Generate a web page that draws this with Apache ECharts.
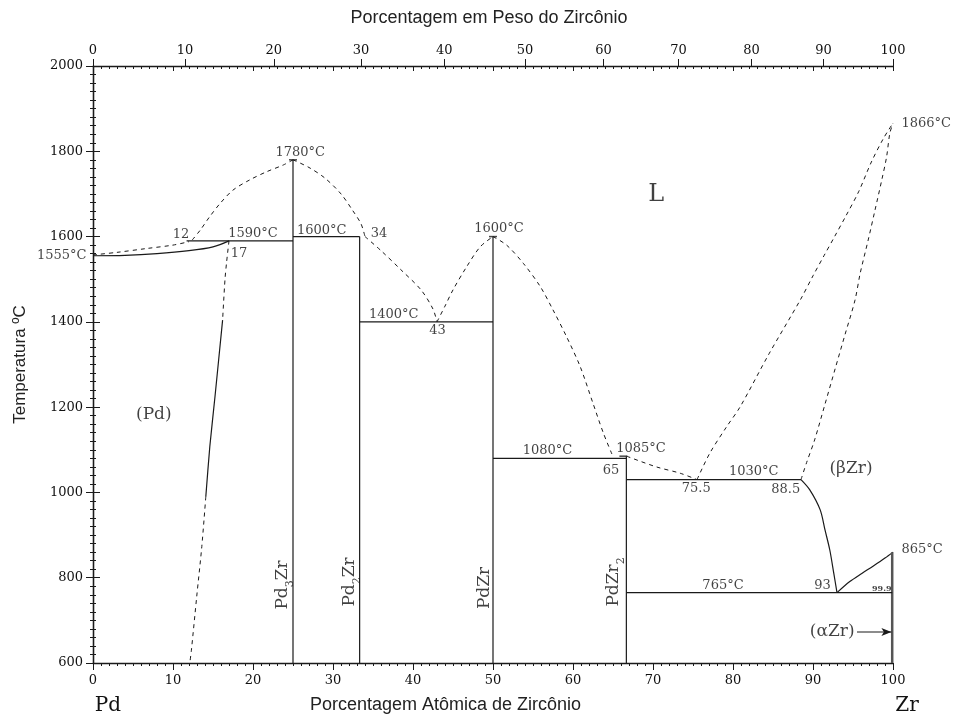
<!DOCTYPE html>
<html>
<head>
<meta charset="utf-8">
<script src="https://cdn.jsdelivr.net/npm/echarts@6/dist/echarts.min.js"></script>
<style>
    html, body {margin: 0; background: #fff;}
    #pdzr {width: 954px; height: 716px;}
</style>
</head>
<body>
<div id="pdzr"></div>
<script>
// top axis: weight % labels and where they sit on the atomic % scale
const wtLabels = [0, 10, 20, 30, 40, 50, 60, 70, 80, 90, 100];
const wtTickAt = [0, 11.5, 22.6, 33.5, 43.9, 54.0, 63.8, 73.2, 82.3, 91.3, 100];

// solid boundaries [at.% Zr, °C]
const pdSolidus = [[0, 1555], [4, 1556], [8, 1560], [12, 1567], [15, 1576], [17, 1590]];
const pdSolvusMid = [[16.2, 1404], [15.25, 1225], [14.6, 1107], [14.1, 990]];
const bzrSolvus = [[88.5, 1030], [89.6, 1006], [90.9, 959], [91.5, 912], [92.1, 865], [92.6, 810], [93, 765]];
const azrBoundary = [[93, 765], [94.6, 791], [96.1, 810], [97.5, 827], [99, 846], [100, 860]];
const azrSolvus = [[99.9, 860], [99.9, 600]];

// invariant lines
const iso1590 = [[11.7, 1590], [25, 1590]];
const iso1600 = [[25, 1600], [33.33, 1600]];
const iso1400 = [[33.33, 1400], [50, 1400]];
const iso1080 = [[50, 1080], [66.67, 1080]];
const iso1030 = [[66.67, 1030], [88.5, 1030]];
const iso765 = [[66.67, 765], [99.9, 765]];

// compounds
const pd3zr = [[25, 600], [25, 1780]];
const pd2zr = [[33.33, 600], [33.33, 1600]];
const pdzr = [[50, 600], [50, 1600]];
const pdzr2 = [[66.67, 600], [66.67, 1085]];
const caps = [[25, 1780], [50, 1600], [66.3, 1085]];

// dashed boundaries
const pdLiquidus = [[0, 1557], [3, 1563], [6.7, 1572], [10, 1580], [12, 1588]];
const pd3zrLeft = [[12.4, 1592], [13.4, 1615], [14.6, 1647], [15.9, 1678], [17.5, 1709], [19.6, 1733], [21.7, 1752], [23.8, 1768], [25, 1780]];
const pd3zrRight = [[25, 1780], [27, 1762], [29, 1737], [31, 1700], [32.5, 1660], [33.5, 1630], [34, 1600]];
const pd2zrLiq = [[34, 1600], [36, 1567], [38.5, 1522], [41, 1475], [42.5, 1430], [43, 1400]];
const pdzrLeft = [[43, 1400], [44, 1437], [45, 1475], [46.7, 1529], [48.4, 1576], [50, 1600]];
const pdzrRight = [[50, 1600], [51.7, 1580], [53.8, 1537], [55.9, 1483], [57.5, 1428], [59.2, 1365], [60.9, 1295], [62.5, 1209], [63.8, 1139], [65, 1084]];
const pdzr2Liq = [[66.7, 1085], [70.4, 1060], [73.4, 1045], [75.5, 1030]];
const zrLiquidus = [[75.5, 1030], [77.1, 1092], [79.2, 1154], [80.9, 1201], [84.5, 1325], [88.4, 1451], [90, 1508], [91.4, 1556], [92.7, 1600], [94.1, 1648], [95.7, 1705], [97.3, 1775], [98.8, 1830], [100, 1866]];
const zrSolidus = [[88.5, 1030], [89.2, 1070], [90.2, 1123], [91.5, 1207], [92.8, 1292], [94, 1370], [95.25, 1451], [95.9, 1514], [96.9, 1592], [97.75, 1662], [98.6, 1733], [99.2, 1787], [99.6, 1842], [100, 1866]];
const pdSolvusTop = [[17, 1590], [16.7, 1540], [16.5, 1500], [16.2, 1404]];
const pdSolvusLow = [[14.1, 990], [13.6, 873], [12.96, 755], [12.3, 630], [12.1, 600]];

const alphaArrow = [[95.5, 672.7], [99.8, 672.7]];

// text notes [at.% Zr, °C, text]
const smallNotes = [
    [25.9, 1798, '1780°C'], [11, 1604, '12'], [20, 1608, '1590°C'], [18.25, 1561, '17'],
    [28.6, 1613, '1600°C'], [35.75, 1606, '34'], [50.75, 1618, '1600°C'],
    [37.6, 1418, '1400°C'], [43.06, 1379, '43'], [56.8, 1097, '1080°C'], [68.5, 1102, '1085°C'],
    [64.75, 1050, '65'], [75.4, 1010, '75.5'], [82.6, 1048, '1030°C'], [86.6, 1006, '88.5'],
    [78.75, 781, '765°C'], [91.2, 781, '93']
];
const tinyNotes = [[98.6, 773, '99.9']];
const leftNotes = [[0, 1555, '1555°C']];
const rightNotes = [[100, 865, '865°C'], [100, 1866, '1866°C']];
const phaseNotes = [[7.6, 1182, '(Pd)'], [94.75, 1057, '(βZr)'], [92.4, 673, '(αZr)']];
const bigNotes = [[70.4, 1698, 'L']];
const compoundNotes = [[23.75, 783, 'Pd3Zr'], [32.1, 790, 'Pd2Zr'], [48.9, 776, 'PdZr'], [65.1, 790, 'PdZr2']];

const ink = '#1a1a1a';
const serif = 'DejaVu Serif';

let myChart = echarts.init(document.getElementById('pdzr'));

function solid(data, smooth) {
    return {type: 'line', data: data, symbol: 'none', smooth: smooth || false, silent: true,
        lineStyle: {color: ink, width: 1.2}};
}

function dashed(data) {
    return {type: 'line', data: data, symbol: 'none', smooth: 0.3, silent: true,
        lineStyle: {color: ink, width: 1, type: [4, 4]}};
}

function notes(list, label) {
    return {
        type: 'scatter', silent: true, symbolSize: 1, itemStyle: {color: 'transparent'},
        data: list.map(n => ({value: [n[0], n[1]], name: n[2]})),
        label: Object.assign({show: true, position: 'inside', formatter: '{b}', color: '#111',
            fontFamily: serif, fontSize: 13}, label)
    };
}

// Pd3Zr -> {a|Pd}{s|3}{a|Zr} for subscripts
function subs(p) {
    return p.name.replace(/([A-Za-z]+)/g, '{a|$1}').replace(/(\d)/g, '{s|$1}');
}

let option = {
    animation: false,
    backgroundColor: '#fff',
    title: [
        {text: 'Porcentagem em Peso do Zircônio', left: 489, top: 9, textAlign: 'center', padding: 0,
            textStyle: {fontFamily: 'Liberation Sans', fontSize: 18, fontWeight: 'normal', color: '#222'}},
        {text: 'Porcentagem Atômica de Zircônio', left: 310, top: 696, padding: 0,
            textStyle: {fontFamily: 'Liberation Sans', fontSize: 18, fontWeight: 'normal', color: '#222'}},
        {text: 'Pd', left: 108, top: 696, textAlign: 'center', padding: 0,
            textStyle: {fontFamily: serif, fontSize: 20, fontWeight: 'normal', color: '#111'}},
        {text: 'Zr', left: 907, top: 696, textAlign: 'center', padding: 0,
            textStyle: {fontFamily: serif, fontSize: 20, fontWeight: 'normal', color: '#111'}}
    ],
    grid: {left: 93, right: 61, top: 66, bottom: 53},
    xAxis: [
        {
            type: 'value', min: 0, max: 100, interval: 10, position: 'bottom',
            axisLine: {lineStyle: {color: ink, width: 1.3}},
            axisTick: {length: 7, lineStyle: {color: ink}},
            minorTick: {show: true, splitNumber: 10, length: 3, lineStyle: {color: ink}},
            axisLabel: {fontFamily: serif, fontSize: 13, color: '#111', margin: 11},
            splitLine: {show: false}
        },
        {
            type: 'value', min: 0, max: 100, interval: 10, position: 'top',
            axisLine: {lineStyle: {color: ink, width: 1.3}},
            axisTick: {inside: true, length: 5, lineStyle: {color: ink}},
            minorTick: {show: true, splitNumber: 10, length: 3, lineStyle: {color: ink}},
            axisLabel: {show: false},
            splitLine: {show: false}
        },
        {
            type: 'value', min: 0, max: 100, position: 'top',
            axisLine: {show: false},
            axisTick: {customValues: wtTickAt, length: 7, lineStyle: {color: ink}},
            axisLabel: {
                customValues: wtTickAt, fontFamily: serif, fontSize: 13, color: '#111', margin: 9,
                formatter: function (v) {
                    let i = wtTickAt.findIndex(a => Math.abs(a - v) < 0.05);
                    return i < 0 ? '' : String(wtLabels[i]);
                }
            },
            splitLine: {show: false}
        }
    ],
    yAxis: [
        {
            type: 'value', min: 600, max: 2000, interval: 200, position: 'left',
            name: 'Temperatura ºC', nameLocation: 'middle', nameRotate: 90, nameGap: 64,
            nameTextStyle: {fontFamily: 'Liberation Sans', fontSize: 17, color: '#222'},
            axisLine: {lineStyle: {color: ink, width: 1.3}},
            axisTick: {length: 7, lineStyle: {color: ink}},
            minorTick: {show: true, splitNumber: 10, length: 3, lineStyle: {color: ink}},
            axisLabel: {fontFamily: serif, fontSize: 13, color: '#111', margin: 10, formatter: v => String(v)},
            splitLine: {show: false}
        },
        {
            type: 'value', min: 600, max: 2000, interval: 200, position: 'right',
            axisLine: {lineStyle: {color: ink, width: 1.3}},
            axisTick: {length: 7, lineStyle: {color: ink}},
            minorTick: {show: true, splitNumber: 10, length: 3, lineStyle: {color: ink}},
            axisLabel: {show: false},
            splitLine: {show: false}
        }
    ],
    series: [
        solid(pdSolidus, 0.3), solid(pdSolvusMid, 0.2), solid(bzrSolvus, 0.3), solid(azrBoundary, 0.3),
        {type: 'line', data: azrSolvus, symbol: 'none', silent: true, lineStyle: {color: '#555', width: 2.5}},
        solid(iso1590), solid(iso1600), solid(iso1400), solid(iso1080), solid(iso1030), solid(iso765),
        solid(pd3zr), solid(pd2zr), solid(pdzr), solid(pdzr2),
        {type: 'scatter', data: caps, symbol: 'rect', symbolSize: [8, 1.5], silent: true, itemStyle: {color: ink}},
        dashed(pdLiquidus), dashed(pd3zrLeft), dashed(pd3zrRight), dashed(pd2zrLiq), dashed(pdzrLeft),
        dashed(pdzrRight), dashed(pdzr2Liq), dashed(zrLiquidus), dashed(zrSolidus),
        dashed(pdSolvusTop), dashed(pdSolvusLow),
        {
            type: 'line', silent: true, lineStyle: {color: ink, width: 1.2},
            data: [
                {value: alphaArrow[0], symbol: 'none'},
                {value: alphaArrow[1], symbol: 'arrow', symbolSize: [6, 10], symbolRotate: -90}
            ],
            itemStyle: {color: ink}
        },
        notes(smallNotes, {}),
        notes(tinyNotes, {fontSize: 8, fontWeight: 'bold'}),
        notes(leftNotes, {position: 'left', distance: 6}),
        notes(rightNotes, {position: 'right', distance: 8}),
        notes(phaseNotes, {fontSize: 17}),
        notes(bigNotes, {fontSize: 24}),
        notes(compoundNotes, {
            rotate: 90, formatter: subs,
            rich: {
                a: {fontFamily: serif, fontSize: 17, color: '#111', lineHeight: 26, verticalAlign: 'middle'},
                s: {fontFamily: serif, fontSize: 11, color: '#111', lineHeight: 11, verticalAlign: 'bottom'}
            }
        })
    ]
};

myChart.setOption(option);
</script>
</body>
</html>
